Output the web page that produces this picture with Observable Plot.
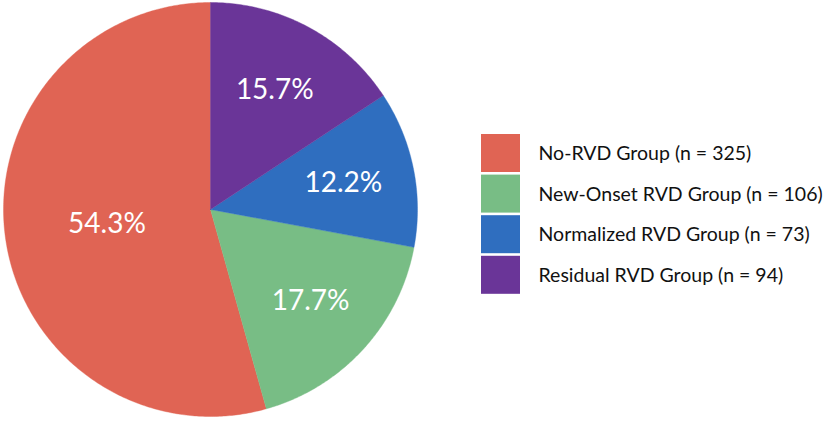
<!DOCTYPE html>
<html><head><meta charset="utf-8">
<script src="https://cdn.jsdelivr.net/npm/d3@7"></script>
<script src="https://cdn.jsdelivr.net/npm/@observablehq/plot@0.6"></script>
<style>body{margin:0;background:#fff;overflow:hidden}</style>
</head><body><div id="chart"></div>
<script>
const groups = ["No-RVD Group", "New-Onset RVD Group", "Normalized RVD Group", "Residual RVD Group"];
const counts = [325, 106, 73, 94];
const percentLabels = ["54.3%", "17.7%", "12.2%", "15.7%"];
const colors = ["#E06454", "#78BD85", "#2F6EBF", "#6A3598"];

const W = 824, H = 421, R = 207, CX = 210, CY = 209;
const px = p => (p - CX) / R;
const py = p => (CY - p) / R;

const arcs = d3.pie().sort(null).startAngle(0).endAngle(-2 * Math.PI)(counts);
const total = d3.sum(counts);

const sliceMarks = arcs.map((s, i) => {
  const n = Math.max(2, Math.ceil(Math.abs(s.endAngle - s.startAngle) / 0.01));
  const pts = [{x: 0, y: 0}];
  for (let k = 0; k <= n; k++) {
    const a = s.startAngle + (s.endAngle - s.startAngle) * k / n;
    pts.push({x: Math.sin(a), y: Math.cos(a)});
  }
  pts.push({x: 0, y: 0});
  return Plot.line(pts, {x: "x", y: "y", fill: colors[i], stroke: colors[i], strokeWidth: 0.4, strokeLinejoin: "round"});
});

const labels = arcs.map((s, i) => {
  const a = (s.startAngle + s.endAngle) / 2;
  const r = counts[i] / total > 0.5 ? 0.505 : 0.655;
  return {x: r * Math.sin(a), y: r * Math.cos(a), text: percentLabels[i]};
});

const legend = groups.map((g, i) => ({
  x1: px(481), x2: px(520),
  y1: py(134 + i * 40.6), y2: py(172 + i * 40.6),
  tx: px(538), ty: py(153.5 + i * 40.6),
  text: `${g} (n = ${counts[i]})`,
  fill: colors[i]
}));

const chart = Plot.plot({
  width: W, height: H,
  margin: 0,
  x: {domain: [px(0), px(W)], range: [0, W], axis: null},
  y: {domain: [py(H), py(0)], range: [H, 0], axis: null},
  style: {background: "white"},
  marks: [
    ...sliceMarks,
    Plot.text(labels, {x: "x", y: "y", text: "text", fill: "white", fontSize: 28, fontFamily: "Lato", textAnchor: "middle", lineAnchor: "middle"}),
    Plot.rect(legend, {x1: "x1", x2: "x2", y1: "y1", y2: "y2", fill: d => d.fill}),
    Plot.text(legend, {x: "tx", y: "ty", text: "text", fill: "#111", fontSize: 19.5, fontFamily: "Lato", textAnchor: "start", lineAnchor: "middle"})
  ]
});
document.getElementById("chart").appendChild(chart);
</script>
</body></html>
